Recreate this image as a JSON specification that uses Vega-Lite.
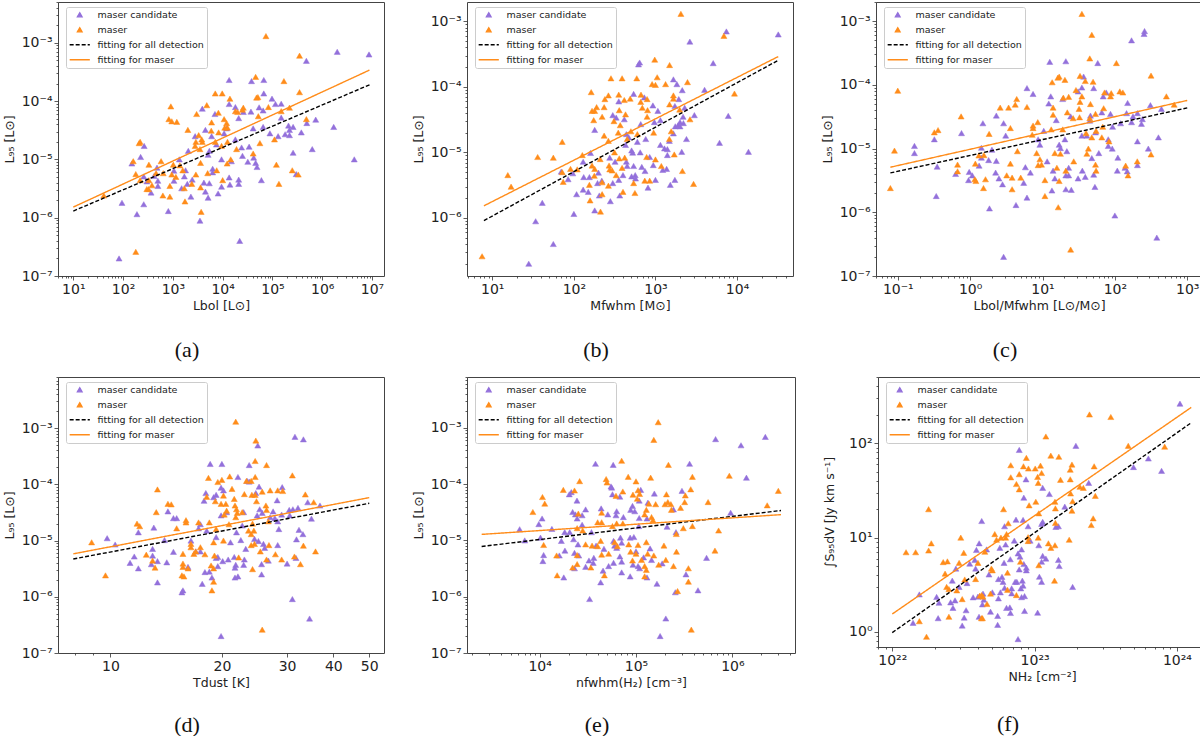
{"$schema":"https://vega.github.io/schema/vega-lite/v6.json","padding":{"left":2,"top":-6,"right":0,"bottom":0},"background":"white","spacing":8,"resolve":{"scale":{"fill":"independent","stroke":"independent","shape":"independent","strokeDash":"independent"},"legend":{"fill":"independent","stroke":"independent","shape":"independent","strokeDash":"independent"}},"params":[{"name":"sup","value":{"-7":"⁻⁷","-6":"⁻⁶","-5":"⁻⁵","-4":"⁻⁴","-3":"⁻³","-1":"⁻¹","0":"⁰","1":"¹","2":"²","3":"³","4":"⁴","5":"⁵","6":"⁶","7":"⁷","22":"²²","23":"²³","24":"²⁴"}}],"config":{"font":"DejaVu Sans","view":{"stroke":"#444444","strokeWidth":1},"axis":{"grid":false,"domain":false,"labelFont":"DejaVu Sans","titleFont":"DejaVu Sans","labelFontSize":14,"titleFontSize":12.5,"titleFontWeight":"normal","tickColor":"#333333","labelColor":"#222222","titleColor":"#222222","tickWidth":0.8,"labelOverlap":false,"labelFlush":false,"labelBound":false,"labelPadding":2},"axisY":{"minExtent":36,"maxExtent":36,"titlePadding":6},"axisX":{"titlePadding":3},"legend":{"orient":"none","legendX":8,"legendY":5,"title":null,"fillColor":"rgba(255,255,255,0.8)","strokeColor":"#cccccc","cornerRadius":2,"padding":3,"labelFont":"DejaVu Sans","labelFontSize":9.5,"labelColor":"#222222","symbolSize":22,"symbolStrokeWidth":1.3,"symbolOpacity":1,"symbolOffset":6,"rowPadding":4,"labelOffset":13},"title":{"font":"Liberation Serif","fontSize":22,"fontWeight":"normal","color":"#111111","orient":"bottom","anchor":"middle","dx":-34,"offset":28}},"datasets":{
"a":[{"s":"maser candidate","x":83,"y":2e-7},{"s":"maser candidate","x":95,"y":1.8e-6},{"s":"maser candidate","x":190,"y":1.15e-6},{"s":"maser candidate","x":260,"y":1.7e-6},{"s":"maser candidate","x":150,"y":8.5e-6},{"s":"maser candidate","x":225,"y":1.1e-5},{"s":"maser candidate","x":265,"y":1.7e-5},{"s":"maser candidate","x":260,"y":5.1e-6},{"s":"maser candidate","x":300,"y":4.2e-6},{"s":"maser candidate","x":365,"y":2.7e-6},{"s":"maser candidate","x":420,"y":5.2e-6},{"s":"maser candidate","x":480,"y":7.2e-6},{"s":"maser candidate","x":500,"y":4.3e-6},{"s":"maser candidate","x":500,"y":3.5e-6},{"s":"maser candidate","x":810,"y":1.3e-6},{"s":"maser candidate","x":1050,"y":4.3e-6},{"s":"maser candidate","x":1050,"y":6.4e-6},{"s":"maser candidate","x":1350,"y":1e-5},{"s":"maser candidate","x":1500,"y":3.2e-6},{"s":"maser candidate","x":1700,"y":5.1e-6},{"s":"maser candidate","x":1800,"y":6.5e-6},{"s":"maser candidate","x":1950,"y":3.8e-6},{"s":"maser candidate","x":2040,"y":1.4e-5},{"s":"maser candidate","x":2300,"y":2.3e-6},{"s":"maser candidate","x":2450,"y":4.5e-6},{"s":"maser candidate","x":2800,"y":2.5e-5},{"s":"maser candidate","x":3500,"y":8.9e-7},{"s":"maser candidate","x":3900,"y":7.4e-5},{"s":"maser candidate","x":4200,"y":4e-6},{"s":"maser candidate","x":4500,"y":3.2e-5},{"s":"maser candidate","x":4500,"y":2.8e-6},{"s":"maser candidate","x":5100,"y":1.2e-5},{"s":"maser candidate","x":5100,"y":2.2e-6},{"s":"maser candidate","x":5400,"y":3.9e-6},{"s":"maser candidate","x":5400,"y":1.4e-5},{"s":"maser candidate","x":6000,"y":2.5e-5},{"s":"maser candidate","x":6300,"y":6.9e-6},{"s":"maser candidate","x":6300,"y":6e-6},{"s":"maser candidate","x":7000,"y":6e-5},{"s":"maser candidate","x":7500,"y":1.8e-5},{"s":"maser candidate","x":8100,"y":2.6e-6},{"s":"maser candidate","x":9500,"y":3.4e-6},{"s":"maser candidate","x":9500,"y":1e-5},{"s":"maser candidate","x":10700,"y":2.8e-5},{"s":"maser candidate","x":12000,"y":3.4e-5},{"s":"maser candidate","x":13500,"y":4.9e-6},{"s":"maser candidate","x":14000,"y":3.7e-6},{"s":"maser candidate","x":13500,"y":8.9e-5},{"s":"maser candidate","x":13500,"y":2.3e-4},{"s":"maser candidate","x":15000,"y":9.3e-6},{"s":"maser candidate","x":18000,"y":2.2e-5},{"s":"maser candidate","x":18000,"y":7.9e-5},{"s":"maser candidate","x":21000,"y":5.1e-5},{"s":"maser candidate","x":21000,"y":4.5e-6},{"s":"maser candidate","x":21000,"y":3.8e-6},{"s":"maser candidate","x":22000,"y":4e-7},{"s":"maser candidate","x":24000,"y":1.6e-5},{"s":"maser candidate","x":25000,"y":1.15e-5},{"s":"maser candidate","x":26000,"y":6.5e-5},{"s":"maser candidate","x":32000,"y":9.1e-6},{"s":"maser candidate","x":34000,"y":1.65e-5},{"s":"maser candidate","x":37000,"y":6.6e-5},{"s":"maser candidate","x":38000,"y":2.2e-4},{"s":"maser candidate","x":41000,"y":3.4e-5},{"s":"maser candidate","x":42000,"y":1.07e-5},{"s":"maser candidate","x":46000,"y":8.7e-6},{"s":"maser candidate","x":49000,"y":7.4e-6},{"s":"maser candidate","x":54000,"y":7.8e-5},{"s":"maser candidate","x":60000,"y":4.4e-6},{"s":"maser candidate","x":65000,"y":6.9e-5},{"s":"maser candidate","x":67000,"y":1.35e-4},{"s":"maser candidate","x":67000,"y":2.3e-4},{"s":"maser candidate","x":65000,"y":3.6e-5},{"s":"maser candidate","x":89000,"y":2.8e-5},{"s":"maser candidate","x":98000,"y":1.1e-4},{"s":"maser candidate","x":115000,"y":8.9e-5},{"s":"maser candidate","x":130000,"y":2.5e-5},{"s":"maser candidate","x":150000,"y":9e-5},{"s":"maser candidate","x":150000,"y":5.2e-5},{"s":"maser candidate","x":180000,"y":2.7e-5},{"s":"maser candidate","x":210000,"y":3.8e-5},{"s":"maser candidate","x":220000,"y":3.2e-5},{"s":"maser candidate","x":220000,"y":2.6e-5},{"s":"maser candidate","x":260000,"y":3.6e-5},{"s":"maser candidate","x":260000,"y":1.3e-5},{"s":"maser candidate","x":300000,"y":5.6e-6},{"s":"maser candidate","x":380000,"y":2.9e-5},{"s":"maser candidate","x":480000,"y":4.9e-4},{"s":"maser candidate","x":490000,"y":4.2e-5},{"s":"maser candidate","x":630000,"y":1.5e-5},{"s":"maser candidate","x":740000,"y":4.8e-5},{"s":"maser candidate","x":1700000,"y":3.6e-5},{"s":"maser candidate","x":2000000,"y":7e-4},{"s":"maser candidate","x":4400000,"y":1e-5},{"s":"maser candidate","x":8700000,"y":6.3e-4},{"s":"maser","x":41,"y":2.4e-6},{"s":"maser","x":180,"y":2.6e-7},{"s":"maser","x":160,"y":9.3e-6},{"s":"maser","x":180,"y":5.6e-6},{"s":"maser","x":210,"y":1.9e-5},{"s":"maser","x":220,"y":2e-5},{"s":"maser","x":220,"y":4.4e-6},{"s":"maser","x":300,"y":3.1e-6},{"s":"maser","x":330,"y":8.1e-6},{"s":"maser","x":330,"y":4.4e-6},{"s":"maser","x":325,"y":3.1e-6},{"s":"maser","x":380,"y":3.6e-6},{"s":"maser","x":460,"y":5.8e-6},{"s":"maser","x":580,"y":9.3e-6},{"s":"maser","x":630,"y":2.4e-6},{"s":"maser","x":640,"y":5.8e-6},{"s":"maser","x":830,"y":4.9e-5},{"s":"maser","x":870,"y":2.3e-6},{"s":"maser","x":870,"y":3.5e-6},{"s":"maser","x":910,"y":8.1e-5},{"s":"maser","x":950,"y":4.5e-5},{"s":"maser","x":950,"y":5.5e-6},{"s":"maser","x":1020,"y":8.1e-6},{"s":"maser","x":1150,"y":5e-6},{"s":"maser","x":1200,"y":4.4e-5},{"s":"maser","x":1380,"y":7.9e-6},{"s":"maser","x":1580,"y":6.5e-6},{"s":"maser","x":1700,"y":3.2e-6},{"s":"maser","x":1750,"y":1.9e-6},{"s":"maser","x":2000,"y":3.2e-5},{"s":"maser","x":2400,"y":3.8e-6},{"s":"maser","x":2800,"y":1.7e-5},{"s":"maser","x":2900,"y":5.5e-6},{"s":"maser","x":3000,"y":6e-5},{"s":"maser","x":2900,"y":2e-5},{"s":"maser","x":3300,"y":2.6e-5},{"s":"maser","x":3500,"y":1.5e-5},{"s":"maser","x":3600,"y":3.3e-6},{"s":"maser","x":3600,"y":8.7e-6},{"s":"maser","x":3700,"y":1.26e-6},{"s":"maser","x":3800,"y":2.2e-5},{"s":"maser","x":3900,"y":2e-5},{"s":"maser","x":4800,"y":8.5e-5},{"s":"maser","x":5000,"y":5.8e-6},{"s":"maser","x":5900,"y":3.1e-5},{"s":"maser","x":6000,"y":4.3e-5},{"s":"maser","x":7100,"y":1.35e-4},{"s":"maser","x":7600,"y":6.5e-6},{"s":"maser","x":7100,"y":2e-5},{"s":"maser","x":8200,"y":6.3e-5},{"s":"maser","x":8300,"y":2.9e-5},{"s":"maser","x":9800,"y":1.35e-4},{"s":"maser","x":10000,"y":4.4e-6},{"s":"maser","x":9500,"y":1.7e-5},{"s":"maser","x":10700,"y":4.9e-5},{"s":"maser","x":11000,"y":3.5e-5},{"s":"maser","x":12000,"y":4.2e-5},{"s":"maser","x":12300,"y":8.5e-6},{"s":"maser","x":12500,"y":3.5e-5},{"s":"maser","x":12500,"y":2e-5},{"s":"maser","x":14000,"y":1.1e-4},{"s":"maser","x":14500,"y":1e-5},{"s":"maser","x":18000,"y":6.7e-5},{"s":"maser","x":20000,"y":6.5e-5},{"s":"maser","x":19000,"y":1.5e-5},{"s":"maser","x":26000,"y":7.7e-5},{"s":"maser","x":25000,"y":7.1e-5},{"s":"maser","x":41000,"y":1.26e-5},{"s":"maser","x":46000,"y":2.6e-4},{"s":"maser","x":51000,"y":1.17e-4},{"s":"maser","x":48000,"y":1.15e-4},{"s":"maser","x":52000,"y":5.5e-5},{"s":"maser","x":56000,"y":1.9e-5},{"s":"maser","x":83000,"y":7.9e-5},{"s":"maser","x":74000,"y":1.3e-3},{"s":"maser","x":110000,"y":2.2e-5},{"s":"maser","x":120000,"y":8.1e-6},{"s":"maser","x":135000,"y":3.8e-6},{"s":"maser","x":150000,"y":6.7e-5},{"s":"maser","x":170000,"y":2.2e-4},{"s":"maser","x":220000,"y":7.7e-5},{"s":"maser","x":250000,"y":6.5e-6},{"s":"maser","x":330000,"y":5.5e-6},{"s":"maser","x":350000,"y":1.42e-4},{"s":"maser","x":350000,"y":6e-4},{"s":"maser","x":480000,"y":4.9e-5}],
"b":[{"s":"maser candidate","x":28,"y":2e-7},{"s":"maser candidate","x":34,"y":8.9e-7},{"s":"maser candidate","x":41,"y":1.7e-6},{"s":"maser candidate","x":56,"y":4e-7},{"s":"maser candidate","x":70,"y":5.1e-6},{"s":"maser candidate","x":85,"y":3.9e-6},{"s":"maser candidate","x":97,"y":4.8e-6},{"s":"maser candidate","x":100,"y":1.15e-6},{"s":"maser candidate","x":108,"y":2.3e-6},{"s":"maser candidate","x":130,"y":2.7e-6},{"s":"maser candidate","x":130,"y":7.2e-6},{"s":"maser candidate","x":132,"y":4.2e-6},{"s":"maser candidate","x":150,"y":2.5e-6},{"s":"maser candidate","x":155,"y":4.2e-6},{"s":"maser candidate","x":160,"y":9.8e-6},{"s":"maser candidate","x":180,"y":2.2e-5},{"s":"maser candidate","x":180,"y":1.3e-6},{"s":"maser candidate","x":195,"y":3.4e-6},{"s":"maser candidate","x":200,"y":4.9e-6},{"s":"maser candidate","x":205,"y":2.2e-6},{"s":"maser candidate","x":220,"y":3.7e-6},{"s":"maser candidate","x":280,"y":1.8e-6},{"s":"maser candidate","x":275,"y":8.3e-6},{"s":"maser candidate","x":300,"y":3.7e-5},{"s":"maser candidate","x":300,"y":3.4e-6},{"s":"maser candidate","x":320,"y":7.2e-6},{"s":"maser candidate","x":330,"y":3.4e-5},{"s":"maser candidate","x":355,"y":6e-5},{"s":"maser candidate","x":355,"y":3.8e-6},{"s":"maser candidate","x":365,"y":2.2e-6},{"s":"maser candidate","x":400,"y":4.5e-6},{"s":"maser candidate","x":415,"y":3.2e-5},{"s":"maser candidate","x":430,"y":1.3e-5},{"s":"maser candidate","x":440,"y":1.9e-5},{"s":"maser candidate","x":440,"y":7.2e-6},{"s":"maser candidate","x":450,"y":6.2e-6},{"s":"maser candidate","x":470,"y":1.7e-5},{"s":"maser candidate","x":510,"y":4.3e-6},{"s":"maser candidate","x":510,"y":1.07e-5},{"s":"maser candidate","x":525,"y":9.9e-6},{"s":"maser candidate","x":540,"y":6.2e-6},{"s":"maser candidate","x":540,"y":7.8e-5},{"s":"maser candidate","x":565,"y":4.5e-6},{"s":"maser candidate","x":570,"y":4e-6},{"s":"maser candidate","x":600,"y":1.45e-5},{"s":"maser candidate","x":620,"y":2.2e-4},{"s":"maser candidate","x":640,"y":2.35e-4},{"s":"maser candidate","x":650,"y":1e-5},{"s":"maser candidate","x":660,"y":2.7e-5},{"s":"maser candidate","x":680,"y":6e-6},{"s":"maser candidate","x":730,"y":6.9e-5},{"s":"maser candidate","x":745,"y":5.2e-6},{"s":"maser candidate","x":760,"y":1.6e-5},{"s":"maser candidate","x":810,"y":2.9e-6},{"s":"maser candidate","x":850,"y":8.5e-6},{"s":"maser candidate","x":930,"y":5.2e-5},{"s":"maser candidate","x":940,"y":6.4e-6},{"s":"maser candidate","x":970,"y":2.9e-5},{"s":"maser candidate","x":1000,"y":3.8e-6},{"s":"maser candidate","x":1070,"y":4.3e-5},{"s":"maser candidate","x":1150,"y":1.3e-5},{"s":"maser candidate","x":1150,"y":3.1e-5},{"s":"maser candidate","x":1230,"y":5.4e-6},{"s":"maser candidate","x":1290,"y":1.15e-5},{"s":"maser candidate","x":1370,"y":5.6e-6},{"s":"maser candidate","x":1400,"y":9.1e-6},{"s":"maser candidate","x":1400,"y":1.12e-5},{"s":"maser candidate","x":1480,"y":1.5e-5},{"s":"maser candidate","x":1520,"y":3.2e-6},{"s":"maser candidate","x":1660,"y":1.3e-4},{"s":"maser candidate","x":1660,"y":1.95e-5},{"s":"maser candidate","x":1730,"y":3.8e-6},{"s":"maser candidate","x":1730,"y":5.1e-5},{"s":"maser candidate","x":1750,"y":2.5e-5},{"s":"maser candidate","x":1830,"y":1.1e-4},{"s":"maser candidate","x":1930,"y":6.5e-5},{"s":"maser candidate","x":1900,"y":2.6e-5},{"s":"maser candidate","x":2000,"y":2.9e-5},{"s":"maser candidate","x":2000,"y":2.5e-5},{"s":"maser candidate","x":2100,"y":1.02e-5},{"s":"maser candidate","x":2130,"y":8.9e-5},{"s":"maser candidate","x":2180,"y":3.5e-5},{"s":"maser candidate","x":2200,"y":2.8e-5},{"s":"maser candidate","x":2280,"y":4.8e-5},{"s":"maser candidate","x":2400,"y":1.6e-5},{"s":"maser candidate","x":2640,"y":4.9e-4},{"s":"maser candidate","x":3000,"y":3.7e-5},{"s":"maser candidate","x":4000,"y":9e-5},{"s":"maser candidate","x":5100,"y":2.3e-4},{"s":"maser candidate","x":6100,"y":1.4e-5},{"s":"maser candidate","x":7400,"y":7e-4},{"s":"maser candidate","x":7800,"y":3.6e-5},{"s":"maser candidate","x":13800,"y":1.02e-5},{"s":"maser candidate","x":32000,"y":6.3e-4},{"s":"maser","x":7.5,"y":2.6e-7},{"s":"maser","x":15.5,"y":4.5e-6},{"s":"maser","x":17,"y":3e-6},{"s":"maser","x":36,"y":8.5e-6},{"s":"maser","x":56,"y":8.3e-6},{"s":"maser","x":72,"y":1.45e-5},{"s":"maser","x":72,"y":5e-6},{"s":"maser","x":74,"y":3.55e-6},{"s":"maser","x":91,"y":5.6e-6},{"s":"maser","x":110,"y":5.5e-6},{"s":"maser","x":127,"y":9.1e-6},{"s":"maser","x":155,"y":3.2e-6},{"s":"maser","x":158,"y":1.85e-6},{"s":"maser","x":163,"y":8.3e-5},{"s":"maser","x":167,"y":4.3e-5},{"s":"maser","x":167,"y":6.3e-6},{"s":"maser","x":175,"y":3.1e-5},{"s":"maser","x":180,"y":4.3e-5},{"s":"maser","x":178,"y":4.4e-6},{"s":"maser","x":180,"y":5.6e-6},{"s":"maser","x":190,"y":4.9e-5},{"s":"maser","x":210,"y":7.9e-6},{"s":"maser","x":212,"y":1.25e-6},{"s":"maser","x":222,"y":3.5e-5},{"s":"maser","x":222,"y":3.5e-6},{"s":"maser","x":222,"y":2.3e-6},{"s":"maser","x":235,"y":4.9e-5},{"s":"maser","x":235,"y":1.8e-5},{"s":"maser","x":240,"y":6.5e-5},{"s":"maser","x":265,"y":7.4e-5},{"s":"maser","x":265,"y":1.5e-5},{"s":"maser","x":265,"y":3.1e-6},{"s":"maser","x":270,"y":6.3e-6},{"s":"maser","x":285,"y":1.35e-4},{"s":"maser","x":275,"y":5.5e-6},{"s":"maser","x":295,"y":5.3e-6},{"s":"maser","x":310,"y":3e-5},{"s":"maser","x":315,"y":1e-5},{"s":"maser","x":330,"y":4.5e-6},{"s":"maser","x":350,"y":2e-5},{"s":"maser","x":355,"y":7.6e-5},{"s":"maser","x":360,"y":4.4e-5},{"s":"maser","x":370,"y":2.6e-5},{"s":"maser","x":360,"y":8.1e-6},{"s":"maser","x":390,"y":5.8e-6},{"s":"maser","x":390,"y":1.35e-4},{"s":"maser","x":400,"y":2.5e-6},{"s":"maser","x":415,"y":6.3e-5},{"s":"maser","x":430,"y":3.8e-5},{"s":"maser","x":420,"y":8.3e-6},{"s":"maser","x":450,"y":1.6e-5},{"s":"maser","x":490,"y":6.6e-5},{"s":"maser","x":500,"y":2.1e-5},{"s":"maser","x":540,"y":3.4e-6},{"s":"maser","x":560,"y":2.4e-6},{"s":"maser","x":590,"y":1.35e-4},{"s":"maser","x":600,"y":1.9e-5},{"s":"maser","x":660,"y":5.9e-5},{"s":"maser","x":665,"y":7.6e-5},{"s":"maser","x":690,"y":4.8e-5},{"s":"maser","x":740,"y":3.7e-6},{"s":"maser","x":790,"y":6.5e-5},{"s":"maser","x":800,"y":4.4e-5},{"s":"maser","x":790,"y":3.5e-5},{"s":"maser","x":780,"y":8.5e-6},{"s":"maser","x":850,"y":3.7e-6},{"s":"maser","x":910,"y":1.1e-4},{"s":"maser","x":950,"y":2e-5},{"s":"maser","x":980,"y":2.6e-4},{"s":"maser","x":1000,"y":1.07e-4},{"s":"maser","x":1000,"y":7.8e-6},{"s":"maser","x":1050,"y":1.4e-4},{"s":"maser","x":1330,"y":1.1e-4},{"s":"maser","x":1180,"y":6.2e-6},{"s":"maser","x":1490,"y":2.15e-4},{"s":"maser","x":1490,"y":5.4e-5},{"s":"maser","x":1480,"y":1.6e-5},{"s":"maser","x":1560,"y":2.1e-5},{"s":"maser","x":1660,"y":6.6e-5},{"s":"maser","x":1700,"y":9.3e-6},{"s":"maser","x":1660,"y":7.4e-5},{"s":"maser","x":1980,"y":4.5e-5},{"s":"maser","x":2050,"y":1.3e-3},{"s":"maser","x":2140,"y":5.2e-6},{"s":"maser","x":2470,"y":1.18e-4},{"s":"maser","x":2650,"y":3.2e-5},{"s":"maser","x":2930,"y":3.3e-6},{"s":"maser","x":6900,"y":6e-4},{"s":"maser","x":9300,"y":7.9e-5}],
"c":[{"s":"maser candidate","x":0.17,"y":1.1e-5},{"s":"maser candidate","x":0.17,"y":8.5e-6},{"s":"maser candidate","x":0.32,"y":1.4e-5},{"s":"maser candidate","x":0.35,"y":5.2e-6},{"s":"maser candidate","x":0.34,"y":1.8e-6},{"s":"maser candidate","x":0.76,"y":1.75e-5},{"s":"maser candidate","x":0.63,"y":4e-6},{"s":"maser candidate","x":0.97,"y":4.3e-6},{"s":"maser candidate","x":0.95,"y":3.2e-6},{"s":"maser candidate","x":1.07,"y":3.8e-6},{"s":"maser candidate","x":1.33,"y":5.4e-6},{"s":"maser candidate","x":1.43,"y":7.2e-6},{"s":"maser candidate","x":1.43,"y":1.03e-5},{"s":"maser candidate","x":1.5,"y":2.5e-5},{"s":"maser candidate","x":1.8,"y":6.6e-6},{"s":"maser candidate","x":1.85,"y":1.15e-6},{"s":"maser candidate","x":2,"y":9.6e-6},{"s":"maser candidate","x":2.3,"y":3.3e-5},{"s":"maser candidate","x":2.25,"y":4.2e-6},{"s":"maser candidate","x":2.3,"y":6.4e-6},{"s":"maser candidate","x":2.5,"y":3.4e-6},{"s":"maser candidate","x":2.8,"y":2.75e-6},{"s":"maser candidate","x":2.9,"y":2.5e-5},{"s":"maser candidate","x":2.9,"y":2e-7},{"s":"maser candidate","x":3.1,"y":1.6e-5},{"s":"maser candidate","x":4.3,"y":1.3e-6},{"s":"maser candidate","x":5.5,"y":2.9e-6},{"s":"maser candidate","x":5.8,"y":5.1e-6},{"s":"maser candidate","x":6.1,"y":8.9e-5},{"s":"maser candidate","x":6.1,"y":1.7e-6},{"s":"maser candidate","x":6.8,"y":4.2e-6},{"s":"maser candidate","x":7.4,"y":7.2e-5},{"s":"maser candidate","x":8.7,"y":1.4e-5},{"s":"maser candidate","x":9.2,"y":1.15e-5},{"s":"maser candidate","x":10.4,"y":1.9e-5},{"s":"maser candidate","x":11.6,"y":6.3e-6},{"s":"maser candidate","x":12.2,"y":5.1e-5},{"s":"maser candidate","x":12.6,"y":2.3e-4},{"s":"maser candidate","x":13,"y":6.6e-5},{"s":"maser candidate","x":13.5,"y":2.2e-6},{"s":"maser candidate","x":14,"y":4.5e-6},{"s":"maser candidate","x":14.8,"y":3.4e-6},{"s":"maser candidate","x":15.5,"y":2.8e-5},{"s":"maser candidate","x":17,"y":1.15e-5},{"s":"maser candidate","x":17.7,"y":1.02e-5},{"s":"maser candidate","x":19,"y":6e-5},{"s":"maser candidate","x":21,"y":2.35e-4},{"s":"maser candidate","x":20.4,"y":1.4e-5},{"s":"maser candidate","x":21,"y":2.3e-6},{"s":"maser candidate","x":21.7,"y":9.1e-6},{"s":"maser candidate","x":21,"y":3.8e-6},{"s":"maser candidate","x":23,"y":3.8e-6},{"s":"maser candidate","x":23,"y":5e-6},{"s":"maser candidate","x":24.5,"y":3.2e-5},{"s":"maser candidate","x":25,"y":2.25e-6},{"s":"maser candidate","x":31,"y":3.4e-6},{"s":"maser candidate","x":31,"y":7.9e-5},{"s":"maser candidate","x":35,"y":9.1e-5},{"s":"maser candidate","x":35.5,"y":4.5e-6},{"s":"maser candidate","x":35,"y":1.6e-5},{"s":"maser candidate","x":37,"y":1.35e-4},{"s":"maser candidate","x":39,"y":3.6e-6},{"s":"maser candidate","x":41,"y":1.6e-5},{"s":"maser candidate","x":45,"y":2.75e-5},{"s":"maser candidate","x":46,"y":3.3e-5},{"s":"maser candidate","x":48,"y":7.1e-6},{"s":"maser candidate","x":51,"y":8.9e-5},{"s":"maser candidate","x":51,"y":3.9e-6},{"s":"maser candidate","x":53,"y":2.5e-6},{"s":"maser candidate","x":54,"y":1.8e-5},{"s":"maser candidate","x":58,"y":2.2e-4},{"s":"maser candidate","x":60,"y":8.5e-6},{"s":"maser candidate","x":66,"y":3.7e-5},{"s":"maser candidate","x":69,"y":6.6e-5},{"s":"maser candidate","x":76,"y":7.6e-5},{"s":"maser candidate","x":81,"y":1.4e-5},{"s":"maser candidate","x":81,"y":1.1e-5},{"s":"maser candidate","x":87,"y":3.5e-5},{"s":"maser candidate","x":92,"y":1e-5},{"s":"maser candidate","x":93,"y":2.2e-5},{"s":"maser candidate","x":100,"y":8.9e-7},{"s":"maser candidate","x":108,"y":4.5e-6},{"s":"maser candidate","x":110,"y":7.2e-6},{"s":"maser candidate","x":120,"y":2.5e-5},{"s":"maser candidate","x":138,"y":5e-6},{"s":"maser candidate","x":145,"y":3.6e-5},{"s":"maser candidate","x":148,"y":4.4e-6},{"s":"maser candidate","x":150,"y":5.2e-5},{"s":"maser candidate","x":170,"y":5e-4},{"s":"maser candidate","x":170,"y":2.6e-5},{"s":"maser candidate","x":178,"y":3.2e-5},{"s":"maser candidate","x":205,"y":1.3e-5},{"s":"maser candidate","x":205,"y":5.5e-6},{"s":"maser candidate","x":205,"y":3.6e-5},{"s":"maser candidate","x":233,"y":2.45e-5},{"s":"maser candidate","x":240,"y":2.9e-5},{"s":"maser candidate","x":253,"y":6.3e-4},{"s":"maser candidate","x":257,"y":7e-4},{"s":"maser candidate","x":290,"y":1e-5},{"s":"maser candidate","x":310,"y":4.8e-5},{"s":"maser candidate","x":380,"y":4e-7},{"s":"maser candidate","x":400,"y":1.5e-5},{"s":"maser candidate","x":440,"y":4.2e-5},{"s":"maser","x":0.079,"y":2.4e-6},{"s":"maser","x":0.09,"y":9.3e-6},{"s":"maser","x":0.1,"y":8.1e-5},{"s":"maser","x":0.32,"y":1.8e-5},{"s":"maser","x":0.36,"y":1.95e-5},{"s":"maser","x":0.67,"y":5.6e-6},{"s":"maser","x":0.67,"y":4.4e-6},{"s":"maser","x":0.75,"y":3.2e-5},{"s":"maser","x":1.18,"y":5.8e-6},{"s":"maser","x":1.16,"y":3.3e-6},{"s":"maser","x":1.2,"y":3.1e-6},{"s":"maser","x":1.32,"y":7.8e-6},{"s":"maser","x":1.55,"y":7.9e-6},{"s":"maser","x":1.53,"y":2.4e-6},{"s":"maser","x":1.63,"y":3.3e-6},{"s":"maser","x":1.83,"y":1.7e-5},{"s":"maser","x":2.6,"y":4.4e-5},{"s":"maser","x":3.2,"y":3.8e-6},{"s":"maser","x":3.4,"y":4.4e-5},{"s":"maser","x":3.6,"y":2.1e-5},{"s":"maser","x":3.6,"y":5.8e-6},{"s":"maser","x":3.8,"y":3.5e-6},{"s":"maser","x":3.8,"y":2.3e-6},{"s":"maser","x":4.2,"y":4.9e-5},{"s":"maser","x":4.4,"y":6e-5},{"s":"maser","x":4.5,"y":9.1e-6},{"s":"maser","x":5,"y":3.5e-6},{"s":"maser","x":6.1,"y":4.5e-5},{"s":"maser","x":7.2,"y":1.65e-5},{"s":"maser","x":7.4,"y":2.3e-5},{"s":"maser","x":7.4,"y":2.1e-5},{"s":"maser","x":8.3,"y":8.5e-6},{"s":"maser","x":8.6,"y":2.6e-5},{"s":"maser","x":8.7,"y":5.5e-6},{"s":"maser","x":9.2,"y":6.8e-6},{"s":"maser","x":9.7,"y":5.6e-6},{"s":"maser","x":10.8,"y":3.2e-6},{"s":"maser","x":10.8,"y":1.8e-6},{"s":"maser","x":13.2,"y":2e-5},{"s":"maser","x":13.6,"y":1.1e-4},{"s":"maser","x":14,"y":4.4e-5},{"s":"maser","x":14,"y":3.4e-5},{"s":"maser","x":14.8,"y":8.5e-6},{"s":"maser","x":15.8,"y":5e-6},{"s":"maser","x":16.3,"y":1.3e-4},{"s":"maser","x":17,"y":1.35e-4},{"s":"maser","x":16.5,"y":1.2e-6},{"s":"maser","x":17,"y":3.1e-6},{"s":"maser","x":17.7,"y":8.3e-6},{"s":"maser","x":19,"y":2e-5},{"s":"maser","x":19.4,"y":6.3e-5},{"s":"maser","x":20.4,"y":1.2e-4},{"s":"maser","x":21,"y":4.5e-6},{"s":"maser","x":22,"y":3.7e-5},{"s":"maser","x":23,"y":6.5e-5},{"s":"maser","x":24.5,"y":2.6e-7},{"s":"maser","x":26.5,"y":3e-5},{"s":"maser","x":27,"y":6.3e-6},{"s":"maser","x":29,"y":8.3e-5},{"s":"maser","x":32,"y":4.2e-5},{"s":"maser","x":32.5,"y":3.1e-5},{"s":"maser","x":33,"y":1.38e-4},{"s":"maser","x":33,"y":5.4e-5},{"s":"maser","x":35,"y":1.3e-3},{"s":"maser","x":35,"y":6.6e-5},{"s":"maser","x":40,"y":1.75e-5},{"s":"maser","x":39,"y":1.15e-4},{"s":"maser","x":41,"y":8.3e-6},{"s":"maser","x":43,"y":1e-5},{"s":"maser","x":45,"y":2.6e-4},{"s":"maser","x":45,"y":3e-5},{"s":"maser","x":46,"y":5e-5},{"s":"maser","x":48,"y":1.5e-5},{"s":"maser","x":48,"y":6.1e-4},{"s":"maser","x":50,"y":1.12e-4},{"s":"maser","x":54,"y":5.6e-6},{"s":"maser","x":55,"y":4.5e-6},{"s":"maser","x":54,"y":3.5e-5},{"s":"maser","x":55,"y":1.9e-5},{"s":"maser","x":68,"y":2.2e-5},{"s":"maser","x":66,"y":1.5e-5},{"s":"maser","x":70,"y":4.3e-5},{"s":"maser","x":72,"y":7.6e-5},{"s":"maser","x":83,"y":1.3e-5},{"s":"maser","x":87,"y":6.6e-5},{"s":"maser","x":89,"y":7.4e-5},{"s":"maser","x":105,"y":2.2e-4},{"s":"maser","x":117,"y":7.9e-5},{"s":"maser","x":129,"y":7.6e-5},{"s":"maser","x":141,"y":5.4e-6},{"s":"maser","x":152,"y":3.8e-6},{"s":"maser","x":204,"y":6.3e-6},{"s":"maser","x":316,"y":1.4e-4},{"s":"maser","x":316,"y":8.1e-6},{"s":"maser","x":515,"y":6.6e-5},{"s":"maser","x":660,"y":4.9e-5}],
"d":[{"s":"maser candidate","x":9.8,"y":1.1e-5},{"s":"maser candidate","x":10.3,"y":8.5e-6},{"s":"maser candidate","x":11.3,"y":4e-6},{"s":"maser candidate","x":11.6,"y":5.2e-6},{"s":"maser candidate","x":11.9,"y":1.4e-5},{"s":"maser candidate","x":11.9,"y":3.2e-6},{"s":"maser candidate","x":12.9,"y":3.8e-6},{"s":"maser candidate","x":13,"y":7.1e-6},{"s":"maser candidate","x":13,"y":5.4e-6},{"s":"maser candidate","x":13.1,"y":1.7e-5},{"s":"maser candidate","x":13.4,"y":4.3e-6},{"s":"maser candidate","x":13.4,"y":1.8e-6},{"s":"maser candidate","x":14,"y":1.02e-5},{"s":"maser candidate","x":14.2,"y":4.1e-6},{"s":"maser candidate","x":14.3,"y":3.3e-5},{"s":"maser candidate","x":14.8,"y":2.5e-5},{"s":"maser candidate","x":15.1,"y":2.5e-5},{"s":"maser candidate","x":14.8,"y":6.3e-6},{"s":"maser candidate","x":15.6,"y":1.2e-6},{"s":"maser candidate","x":15.7,"y":1.3e-6},{"s":"maser candidate","x":16.2,"y":3.4e-6},{"s":"maser candidate","x":16.5,"y":1e-5},{"s":"maser candidate","x":17,"y":6.4e-6},{"s":"maser candidate","x":17.3,"y":1.65e-5},{"s":"maser candidate","x":17.5,"y":6.4e-6},{"s":"maser candidate","x":17.5,"y":1.95e-5},{"s":"maser candidate","x":17.7,"y":1.7e-6},{"s":"maser candidate","x":18,"y":2.75e-6},{"s":"maser candidate","x":17.9,"y":5.1e-5},{"s":"maser candidate","x":18.1,"y":7e-5},{"s":"maser candidate","x":18.2,"y":1.5e-5},{"s":"maser candidate","x":18.6,"y":2.3e-4},{"s":"maser candidate","x":18.5,"y":2.8e-6},{"s":"maser candidate","x":18.8,"y":2.2e-6},{"s":"maser candidate","x":19,"y":5.9e-5},{"s":"maser candidate","x":19.3,"y":6.5e-5},{"s":"maser candidate","x":19.3,"y":1.15e-5},{"s":"maser candidate","x":19.3,"y":4.9e-6},{"s":"maser candidate","x":19.5,"y":5.1e-6},{"s":"maser candidate","x":19.5,"y":3.5e-6},{"s":"maser candidate","x":19.9,"y":2e-7},{"s":"maser candidate","x":19.9,"y":8.7e-5},{"s":"maser candidate","x":20,"y":2.3e-4},{"s":"maser candidate","x":19.9,"y":2.8e-5},{"s":"maser candidate","x":20.1,"y":4.3e-6},{"s":"maser candidate","x":20.2,"y":7.8e-5},{"s":"maser candidate","x":20.6,"y":3.2e-5},{"s":"maser candidate","x":20.8,"y":4.6e-6},{"s":"maser candidate","x":21.1,"y":9.3e-6},{"s":"maser candidate","x":21.6,"y":5.1e-6},{"s":"maser candidate","x":21.7,"y":3.3e-6},{"s":"maser candidate","x":21.8,"y":3.7e-6},{"s":"maser candidate","x":21.7,"y":2.2e-6},{"s":"maser candidate","x":21.9,"y":1.4e-5},{"s":"maser candidate","x":22.1,"y":1.35e-4},{"s":"maser candidate","x":22.1,"y":2.3e-6},{"s":"maser candidate","x":22.5,"y":1.02e-5},{"s":"maser candidate","x":22.7,"y":1.85e-5},{"s":"maser candidate","x":22.9,"y":3.7e-6},{"s":"maser candidate","x":22.9,"y":3.2e-5},{"s":"maser candidate","x":23,"y":4.6e-6},{"s":"maser candidate","x":23.2,"y":7.1e-6},{"s":"maser candidate","x":23.7,"y":2.2e-4},{"s":"maser candidate","x":23.4,"y":1.15e-4},{"s":"maser candidate","x":23.7,"y":1.12e-4},{"s":"maser candidate","x":24.5,"y":1.07e-5},{"s":"maser candidate","x":24.7,"y":7e-5},{"s":"maser candidate","x":25.1,"y":9.8e-6},{"s":"maser candidate","x":24.9,"y":2.8e-5},{"s":"maser candidate","x":25.2,"y":9.1e-5},{"s":"maser candidate","x":25.3,"y":3.6e-5},{"s":"maser candidate","x":25.6,"y":2.5e-6},{"s":"maser candidate","x":25.6,"y":3.8e-6},{"s":"maser candidate","x":25.7,"y":3.1e-5},{"s":"maser candidate","x":25.9,"y":8.7e-6},{"s":"maser candidate","x":26.1,"y":7.4e-6},{"s":"maser candidate","x":26.7,"y":4.4e-6},{"s":"maser candidate","x":27,"y":2.6e-5},{"s":"maser candidate","x":27.5,"y":3.3e-5},{"s":"maser candidate","x":27.8,"y":2.5e-5},{"s":"maser candidate","x":28.3,"y":8.3e-6},{"s":"maser candidate","x":28.3,"y":2.2e-5},{"s":"maser candidate","x":28.2,"y":5.2e-5},{"s":"maser candidate","x":28.5,"y":1.6e-5},{"s":"maser candidate","x":29,"y":2.9e-5},{"s":"maser candidate","x":29.1,"y":8.9e-5},{"s":"maser candidate","x":30,"y":3.9e-6},{"s":"maser candidate","x":30.5,"y":2.8e-5},{"s":"maser candidate","x":30.4,"y":3.5e-5},{"s":"maser candidate","x":31,"y":9.1e-7},{"s":"maser candidate","x":31.1,"y":3.6e-5},{"s":"maser candidate","x":31.5,"y":7e-4},{"s":"maser candidate","x":31.8,"y":1.05e-5},{"s":"maser candidate","x":31.7,"y":4.9e-6},{"s":"maser candidate","x":32.1,"y":3.8e-5},{"s":"maser candidate","x":32.3,"y":1.55e-5},{"s":"maser candidate","x":33.1,"y":1.3e-5},{"s":"maser candidate","x":33.2,"y":6.3e-4},{"s":"maser candidate","x":34.1,"y":4.8e-5},{"s":"maser candidate","x":34.5,"y":4.1e-7},{"s":"maser candidate","x":34.9,"y":2.45e-5},{"s":"maser candidate","x":36.8,"y":4.2e-5},{"s":"maser candidate","x":25,"y":4.9e-4},{"s":"maser","x":8.9,"y":9.3e-6},{"s":"maser","x":9.7,"y":2.4e-6},{"s":"maser","x":11.8,"y":2e-5},{"s":"maser","x":12,"y":1.8e-5},{"s":"maser","x":12.5,"y":5.6e-6},{"s":"maser","x":13,"y":4.4e-6},{"s":"maser","x":13.2,"y":3.3e-6},{"s":"maser","x":13.3,"y":3.2e-5},{"s":"maser","x":13.4,"y":8.1e-5},{"s":"maser","x":14.3,"y":4.5e-5},{"s":"maser","x":14.6,"y":4.4e-5},{"s":"maser","x":15.1,"y":1.65e-5},{"s":"maser","x":15.6,"y":2.4e-6},{"s":"maser","x":15.7,"y":5.8e-6},{"s":"maser","x":15.8,"y":2.3e-6},{"s":"maser","x":15.7,"y":3.9e-6},{"s":"maser","x":15.7,"y":3.4e-6},{"s":"maser","x":16,"y":2.3e-5},{"s":"maser","x":16,"y":2.1e-5},{"s":"maser","x":16.5,"y":8.7e-6},{"s":"maser","x":16.5,"y":7.6e-6},{"s":"maser","x":16.2,"y":3.2e-6},{"s":"maser","x":16.8,"y":5.8e-6},{"s":"maser","x":17,"y":6.4e-6},{"s":"maser","x":17.3,"y":2.1e-5},{"s":"maser","x":17.5,"y":7.6e-6},{"s":"maser","x":18,"y":5.7e-6},{"s":"maser","x":18.4,"y":1.3e-4},{"s":"maser","x":18.2,"y":6e-5},{"s":"maser","x":18.5,"y":2.1e-5},{"s":"maser","x":18.7,"y":3.6e-6},{"s":"maser","x":18.8,"y":1.3e-6},{"s":"maser","x":19,"y":9.3e-6},{"s":"maser","x":19,"y":3.2e-6},{"s":"maser","x":19,"y":1.85e-6},{"s":"maser","x":19.2,"y":5e-5},{"s":"maser","x":19.3,"y":1.6e-5},{"s":"maser","x":19.1,"y":5.4e-6},{"s":"maser","x":19.5,"y":1.1e-4},{"s":"maser","x":19.9,"y":4.5e-5},{"s":"maser","x":20,"y":1.2e-4},{"s":"maser","x":20.2,"y":1e-5},{"s":"maser","x":20.3,"y":2.9e-5},{"s":"maser","x":20.2,"y":6.3e-5},{"s":"maser","x":20.5,"y":4.5e-5},{"s":"maser","x":20.6,"y":3.4e-5},{"s":"maser","x":20.9,"y":1.95e-5},{"s":"maser","x":21,"y":1.38e-4},{"s":"maser","x":21.3,"y":8.3e-5},{"s":"maser","x":21.6,"y":5.5e-5},{"s":"maser","x":21.8,"y":1.3e-3},{"s":"maser","x":21.7,"y":4.2e-5},{"s":"maser","x":21.9,"y":3.6e-5},{"s":"maser","x":21.8,"y":2.6e-5},{"s":"maser","x":22.2,"y":5e-6},{"s":"maser","x":22,"y":3.1e-5},{"s":"maser","x":22.7,"y":3.2e-5},{"s":"maser","x":23,"y":6.7e-5},{"s":"maser","x":23.3,"y":1.15e-4},{"s":"maser","x":24,"y":1.15e-4},{"s":"maser","x":24.1,"y":6.5e-5},{"s":"maser","x":24.2,"y":3.1e-6},{"s":"maser","x":24,"y":8.3e-6},{"s":"maser","x":24.5,"y":8.7e-6},{"s":"maser","x":23.6,"y":1.5e-5},{"s":"maser","x":24,"y":1.3e-5},{"s":"maser","x":24.2,"y":2e-5},{"s":"maser","x":24.4,"y":1.5e-5},{"s":"maser","x":24.7,"y":6e-4},{"s":"maser","x":24.6,"y":2.6e-4},{"s":"maser","x":24.6,"y":1.35e-4},{"s":"maser","x":24.8,"y":5e-5},{"s":"maser","x":24.6,"y":6.5e-5},{"s":"maser","x":25.4,"y":6.4e-6},{"s":"maser","x":25.7,"y":2.6e-7},{"s":"maser","x":25.7,"y":7.4e-5},{"s":"maser","x":26.3,"y":4.2e-5},{"s":"maser","x":26.4,"y":2.2e-4},{"s":"maser","x":26.4,"y":3.5e-5},{"s":"maser","x":26.4,"y":4.6e-6},{"s":"maser","x":26.8,"y":8.3e-6},{"s":"maser","x":27,"y":7.8e-5},{"s":"maser","x":26.7,"y":2.2e-5},{"s":"maser","x":27.9,"y":5.7e-6},{"s":"maser","x":28.3,"y":7.8e-5},{"s":"maser","x":29,"y":4.6e-6},{"s":"maser","x":29.2,"y":7.6e-5},{"s":"maser","x":31,"y":1.44e-4},{"s":"maser","x":31.4,"y":5.2e-6},{"s":"maser","x":32.6,"y":3.8e-6},{"s":"maser","x":33.2,"y":8.1e-6},{"s":"maser","x":33.6,"y":6.6e-5},{"s":"maser","x":35.4,"y":4.8e-5},{"s":"maser","x":35.8,"y":6.4e-6}],
"e":[{"s":"maser candidate","x":6200,"y":1.58e-5},{"s":"maser candidate","x":7000,"y":1e-5},{"s":"maser candidate","x":9800,"y":1.95e-5},{"s":"maser candidate","x":10200,"y":1.12e-5},{"s":"maser candidate","x":10600,"y":2.45e-5},{"s":"maser candidate","x":10800,"y":4.3e-6},{"s":"maser candidate","x":11000,"y":5.5e-6},{"s":"maser candidate","x":13400,"y":1.6e-5},{"s":"maser candidate","x":16000,"y":5.4e-6},{"s":"maser candidate","x":16800,"y":9.8e-6},{"s":"maser candidate","x":17800,"y":2.2e-6},{"s":"maser candidate","x":18300,"y":6.6e-6},{"s":"maser candidate","x":18200,"y":1.4e-5},{"s":"maser candidate","x":20500,"y":1.4e-5},{"s":"maser candidate","x":20300,"y":6.6e-5},{"s":"maser candidate","x":21300,"y":7.2e-5},{"s":"maser candidate","x":22000,"y":3.2e-5},{"s":"maser candidate","x":22500,"y":1.05e-5},{"s":"maser candidate","x":23000,"y":3.2e-6},{"s":"maser candidate","x":23000,"y":6e-6},{"s":"maser candidate","x":23500,"y":2.9e-5},{"s":"maser candidate","x":24400,"y":5.1e-5},{"s":"maser candidate","x":24500,"y":2.45e-5},{"s":"maser candidate","x":25000,"y":8.5e-6},{"s":"maser candidate","x":25500,"y":5.4e-6},{"s":"maser candidate","x":27600,"y":2.8e-5},{"s":"maser candidate","x":27600,"y":1.9e-5},{"s":"maser candidate","x":30000,"y":3.4e-6},{"s":"maser candidate","x":30000,"y":3.55e-5},{"s":"maser candidate","x":32500,"y":4.4e-6},{"s":"maser candidate","x":33000,"y":9.1e-7},{"s":"maser candidate","x":34500,"y":1.4e-5},{"s":"maser candidate","x":36000,"y":4e-6},{"s":"maser candidate","x":36500,"y":4.9e-6},{"s":"maser candidate","x":38000,"y":2.3e-4},{"s":"maser candidate","x":38500,"y":8.1e-6},{"s":"maser candidate","x":43000,"y":1.8e-6},{"s":"maser candidate","x":43500,"y":3.7e-5},{"s":"maser candidate","x":45500,"y":2.9e-6},{"s":"maser candidate","x":46500,"y":7.1e-6},{"s":"maser candidate","x":51000,"y":2.9e-5},{"s":"maser candidate","x":52000,"y":3.5e-6},{"s":"maser candidate","x":55000,"y":9.1e-5},{"s":"maser candidate","x":56000,"y":8.7e-5},{"s":"maser candidate","x":58000,"y":2.2e-4},{"s":"maser candidate","x":57000,"y":6.6e-5},{"s":"maser candidate","x":58500,"y":9.8e-6},{"s":"maser candidate","x":58500,"y":4e-6},{"s":"maser candidate","x":60000,"y":8.1e-6},{"s":"maser candidate","x":62000,"y":2.8e-5},{"s":"maser candidate","x":63000,"y":3.3e-5},{"s":"maser candidate","x":63000,"y":7.4e-6},{"s":"maser candidate","x":68000,"y":6e-5},{"s":"maser candidate","x":68000,"y":5.2e-6},{"s":"maser candidate","x":69000,"y":1.12e-5},{"s":"maser candidate","x":71000,"y":4.2e-6},{"s":"maser candidate","x":71000,"y":2.7e-6},{"s":"maser candidate","x":71000,"y":9.1e-6},{"s":"maser candidate","x":74000,"y":2.6e-5},{"s":"maser candidate","x":87000,"y":2.3e-6},{"s":"maser candidate","x":87000,"y":1.12e-5},{"s":"maser candidate","x":88000,"y":3.5e-5},{"s":"maser candidate","x":92000,"y":4.1e-5},{"s":"maser candidate","x":93000,"y":3.7e-6},{"s":"maser candidate","x":95000,"y":1.15e-5},{"s":"maser candidate","x":97000,"y":3.3e-5},{"s":"maser candidate","x":100000,"y":6.4e-6},{"s":"maser candidate","x":105000,"y":3.5e-6},{"s":"maser candidate","x":108000,"y":2.5e-5},{"s":"maser candidate","x":108000,"y":5.1e-5},{"s":"maser candidate","x":109000,"y":3.2e-6},{"s":"maser candidate","x":107000,"y":1.8e-5},{"s":"maser candidate","x":112000,"y":7.9e-5},{"s":"maser candidate","x":120000,"y":5e-6},{"s":"maser candidate","x":130000,"y":2.2e-6},{"s":"maser candidate","x":133000,"y":4.7e-5},{"s":"maser candidate","x":130000,"y":2.45e-5},{"s":"maser candidate","x":140000,"y":7.2e-6},{"s":"maser candidate","x":145000,"y":4.5e-6},{"s":"maser candidate","x":155000,"y":6.8e-5},{"s":"maser candidate","x":165000,"y":1.7e-6},{"s":"maser candidate","x":178000,"y":2e-7},{"s":"maser candidate","x":187000,"y":3.9e-6},{"s":"maser candidate","x":204000,"y":4.1e-7},{"s":"maser candidate","x":210000,"y":1.75e-5},{"s":"maser candidate","x":245000,"y":3.55e-5},{"s":"maser candidate","x":256000,"y":1.2e-6},{"s":"maser candidate","x":260000,"y":1.4e-5},{"s":"maser candidate","x":300000,"y":7.6e-5},{"s":"maser candidate","x":330000,"y":2.5e-6},{"s":"maser candidate","x":360000,"y":2.3e-4},{"s":"maser candidate","x":440000,"y":1.3e-6},{"s":"maser candidate","x":540000,"y":4.9e-6},{"s":"maser candidate","x":670000,"y":6.3e-4},{"s":"maser candidate","x":960000,"y":3.1e-5},{"s":"maser candidate","x":1230000,"y":4.9e-4},{"s":"maser candidate","x":1400000,"y":1.3e-4},{"s":"maser candidate","x":2200000,"y":6.9e-4},{"s":"maser","x":8500,"y":3.2e-5},{"s":"maser","x":10700,"y":5.9e-5},{"s":"maser","x":11000,"y":8.3e-6},{"s":"maser","x":11300,"y":4.5e-5},{"s":"maser","x":15000,"y":5.4e-6},{"s":"maser","x":15200,"y":2.4e-6},{"s":"maser","x":17600,"y":7.9e-5},{"s":"maser","x":22000,"y":3.3e-6},{"s":"maser","x":23000,"y":7.7e-5},{"s":"maser","x":24500,"y":1.65e-5},{"s":"maser","x":24500,"y":5.5e-6},{"s":"maser","x":24500,"y":3.8e-6},{"s":"maser","x":25200,"y":3e-5},{"s":"maser","x":26000,"y":1.13e-4},{"s":"maser","x":28000,"y":1.5e-5},{"s":"maser","x":30000,"y":8.5e-6},{"s":"maser","x":34000,"y":3.3e-6},{"s":"maser","x":35000,"y":8.1e-6},{"s":"maser","x":40000,"y":2.1e-5},{"s":"maser","x":40000,"y":7.9e-6},{"s":"maser","x":44000,"y":2.1e-5},{"s":"maser","x":44000,"y":3.1e-5},{"s":"maser","x":43000,"y":9.8e-6},{"s":"maser","x":44000,"y":5.6e-6},{"s":"maser","x":47000,"y":2.4e-6},{"s":"maser","x":49000,"y":1.23e-4},{"s":"maser","x":50000,"y":1.07e-4},{"s":"maser","x":52000,"y":5.8e-6},{"s":"maser","x":57000,"y":1.8e-5},{"s":"maser","x":62000,"y":6.2e-5},{"s":"maser","x":63000,"y":2e-5},{"s":"maser","x":60000,"y":9.3e-6},{"s":"maser","x":64000,"y":7.9e-6},{"s":"maser","x":71000,"y":2.6e-4},{"s":"maser","x":73000,"y":7.4e-5},{"s":"maser","x":73000,"y":2e-5},{"s":"maser","x":83000,"y":1.35e-4},{"s":"maser","x":84000,"y":8.5e-6},{"s":"maser","x":88000,"y":6.3e-6},{"s":"maser","x":92000,"y":4.4e-6},{"s":"maser","x":93000,"y":6.5e-5},{"s":"maser","x":100000,"y":1.12e-4},{"s":"maser","x":100000,"y":5.8e-6},{"s":"maser","x":105000,"y":7.8e-5},{"s":"maser","x":103000,"y":5.5e-5},{"s":"maser","x":105000,"y":8.3e-6},{"s":"maser","x":109000,"y":6.7e-5},{"s":"maser","x":114000,"y":4.5e-6},{"s":"maser","x":123000,"y":3.5e-6},{"s":"maser","x":123000,"y":2.9e-5},{"s":"maser","x":123000,"y":2.3e-6},{"s":"maser","x":128000,"y":3.5e-5},{"s":"maser","x":128000,"y":3e-6},{"s":"maser","x":128000,"y":9.3e-6},{"s":"maser","x":132000,"y":5.8e-6},{"s":"maser","x":136000,"y":4.5e-5},{"s":"maser","x":142000,"y":1.3e-4},{"s":"maser","x":145000,"y":2.6e-5},{"s":"maser","x":150000,"y":2.3e-5},{"s":"maser","x":153000,"y":5.4e-6},{"s":"maser","x":153000,"y":6.1e-4},{"s":"maser","x":160000,"y":4.4e-5},{"s":"maser","x":170000,"y":1.26e-3},{"s":"maser","x":172000,"y":3.7e-6},{"s":"maser","x":195000,"y":8.1e-6},{"s":"maser","x":200000,"y":4.4e-5},{"s":"maser","x":204000,"y":4.5e-6},{"s":"maser","x":207000,"y":6.6e-5},{"s":"maser","x":214000,"y":4.8e-5},{"s":"maser","x":217000,"y":2.2e-4},{"s":"maser","x":233000,"y":3.5e-5},{"s":"maser","x":230000,"y":4.4e-5},{"s":"maser","x":245000,"y":3.5e-6},{"s":"maser","x":262000,"y":1.3e-5},{"s":"maser","x":263000,"y":6.3e-6},{"s":"maser","x":270000,"y":1.26e-6},{"s":"maser","x":290000,"y":3.8e-5},{"s":"maser","x":310000,"y":1.65e-5},{"s":"maser","x":320000,"y":4.8e-5},{"s":"maser","x":325000,"y":6.3e-5},{"s":"maser","x":350000,"y":3.2e-6},{"s":"maser","x":350000,"y":1.85e-6},{"s":"maser","x":370000,"y":8.1e-5},{"s":"maser","x":375000,"y":2.6e-7},{"s":"maser","x":385000,"y":1.35e-4},{"s":"maser","x":385000,"y":1.8e-5},{"s":"maser","x":560000,"y":4.8e-5},{"s":"maser","x":660000,"y":6.6e-6},{"s":"maser","x":720000,"y":1.5e-5},{"s":"maser","x":930000,"y":1.41e-4},{"s":"maser","x":2300000,"y":4.2e-5},{"s":"maser","x":3000000,"y":7.6e-5}],
"f":[{"s":"maser candidate","x":1.4e22,"y":1.25},{"s":"maser candidate","x":1.55e22,"y":2.5},{"s":"maser candidate","x":2.05e22,"y":2.35},{"s":"maser candidate","x":2.1e22,"y":1.4},{"s":"maser candidate","x":2.13e22,"y":2.04},{"s":"maser candidate","x":2.57e22,"y":2.06},{"s":"maser candidate","x":2.64e22,"y":3.5},{"s":"maser candidate","x":2.67e22,"y":1.8},{"s":"maser candidate","x":2.76e22,"y":2.16},{"s":"maser candidate","x":2.8e22,"y":4.7},{"s":"maser candidate","x":2.95e22,"y":3},{"s":"maser candidate","x":3.1e22,"y":1.17},{"s":"maser candidate","x":3.2e22,"y":1.42},{"s":"maser candidate","x":3.3e22,"y":1.7},{"s":"maser candidate","x":3.35e22,"y":3.3},{"s":"maser candidate","x":3.5e22,"y":5.3},{"s":"maser candidate","x":3.7e22,"y":2.33},{"s":"maser candidate","x":3.8e22,"y":5.8},{"s":"maser candidate","x":3.85e22,"y":4.7},{"s":"maser candidate","x":3.9e22,"y":7.4},{"s":"maser candidate","x":4e22,"y":2.37},{"s":"maser candidate","x":4.07e22,"y":1.45},{"s":"maser candidate","x":4.08e22,"y":8.7},{"s":"maser candidate","x":4.25e22,"y":15},{"s":"maser candidate","x":4.3e22,"y":1.96},{"s":"maser candidate","x":4.34e22,"y":2.55},{"s":"maser candidate","x":4.4e22,"y":2.2},{"s":"maser candidate","x":4.6e22,"y":7.5},{"s":"maser candidate","x":4.78e22,"y":4.07},{"s":"maser candidate","x":4.9e22,"y":1.64},{"s":"maser candidate","x":5.05e22,"y":2.63},{"s":"maser candidate","x":5.5e22,"y":1.19},{"s":"maser candidate","x":5.5e22,"y":1.48},{"s":"maser candidate","x":5.57e22,"y":2.27},{"s":"maser candidate","x":5.57e22,"y":3.64},{"s":"maser candidate","x":5.7e22,"y":7.8},{"s":"maser candidate","x":5.75e22,"y":2.63},{"s":"maser candidate","x":5.9e22,"y":3.84},{"s":"maser candidate","x":6e22,"y":3.4},{"s":"maser candidate","x":6.15e22,"y":13.2},{"s":"maser candidate","x":6.1e22,"y":5.4},{"s":"maser candidate","x":6.26e22,"y":8.45},{"s":"maser candidate","x":6.15e22,"y":2.94},{"s":"maser candidate","x":6.35e22,"y":1.8},{"s":"maser candidate","x":6.7e22,"y":1.82},{"s":"maser candidate","x":6.75e22,"y":5.9},{"s":"maser candidate","x":6.77e22,"y":1.59},{"s":"maser candidate","x":6.9e22,"y":2.9},{"s":"maser candidate","x":6.9e22,"y":2.57},{"s":"maser candidate","x":7.2e22,"y":9.3},{"s":"maser candidate","x":7.3e22,"y":3.4},{"s":"maser candidate","x":7.4e22,"y":15.5},{"s":"maser candidate","x":7.5e22,"y":3.4},{"s":"maser candidate","x":7.65e22,"y":0.84},{"s":"maser candidate","x":7.65e22,"y":6.8},{"s":"maser candidate","x":7.8e22,"y":4.6},{"s":"maser candidate","x":7.9e22,"y":6.3},{"s":"maser candidate","x":8.1e22,"y":2.34},{"s":"maser candidate","x":8e22,"y":2.9},{"s":"maser candidate","x":7.8e22,"y":85},{"s":"maser candidate","x":8.2e22,"y":3.5},{"s":"maser candidate","x":8.1e22,"y":7.5},{"s":"maser candidate","x":8.3e22,"y":15.4},{"s":"maser candidate","x":8.3e22,"y":3.1},{"s":"maser candidate","x":8.4e22,"y":26.5},{"s":"maser candidate","x":8.4e22,"y":5.25},{"s":"maser candidate","x":8.5e22,"y":2.4},{"s":"maser candidate","x":8.5e22,"y":1.67},{"s":"maser candidate","x":8.7e22,"y":41.5},{"s":"maser candidate","x":8.75e22,"y":4.5},{"s":"maser candidate","x":8.75e22,"y":4.8},{"s":"maser candidate","x":9e22,"y":13.2},{"s":"maser candidate","x":9.3e22,"y":9.3},{"s":"maser candidate","x":1.05e23,"y":1.6},{"s":"maser candidate","x":1.07e23,"y":8.3},{"s":"maser candidate","x":1.08e23,"y":3.85},{"s":"maser candidate","x":1.12e23,"y":3.4},{"s":"maser candidate","x":1.12e23,"y":14},{"s":"maser candidate","x":1.14e23,"y":33.7},{"s":"maser candidate","x":1.12e23,"y":5.55},{"s":"maser candidate","x":1.14e23,"y":6.4},{"s":"maser candidate","x":1.14e23,"y":14.7},{"s":"maser candidate","x":1.2e23,"y":6},{"s":"maser candidate","x":1.27e23,"y":29},{"s":"maser candidate","x":1.41e23,"y":13},{"s":"maser candidate","x":1.47e23,"y":13.2},{"s":"maser candidate","x":1.47e23,"y":5.8},{"s":"maser candidate","x":1.49e23,"y":5},{"s":"maser candidate","x":1.63e23,"y":21.3},{"s":"maser candidate","x":1.85e23,"y":3},{"s":"maser candidate","x":1.95e23,"y":94},{"s":"maser candidate","x":2.4e23,"y":38},{"s":"maser candidate","x":4.95e23,"y":56},{"s":"maser candidate","x":6.3e23,"y":69},{"s":"maser candidate","x":7.8e23,"y":51},{"s":"maser candidate","x":1.05e24,"y":263},{"s":"maser","x":1.25e22,"y":7},{"s":"maser","x":1.46e22,"y":7},{"s":"maser","x":1.55e22,"y":1.3},{"s":"maser","x":1.74e22,"y":0.89},{"s":"maser","x":1.8e22,"y":20},{"s":"maser","x":1.8e22,"y":7.3},{"s":"maser","x":1.88e22,"y":8.7},{"s":"maser","x":2.28e22,"y":5.5},{"s":"maser","x":2.35e22,"y":4.15},{"s":"maser","x":2.44e22,"y":5.6},{"s":"maser","x":2.41e22,"y":3},{"s":"maser","x":2.5e22,"y":1.45},{"s":"maser","x":2.5e22,"y":2.85},{"s":"maser","x":2.84e22,"y":2.76},{"s":"maser","x":2.95e22,"y":5.4},{"s":"maser","x":3.03e22,"y":10},{"s":"maser","x":3.1e22,"y":2.23},{"s":"maser","x":3.18e22,"y":6.9},{"s":"maser","x":3.23e22,"y":3.6},{"s":"maser","x":3.85e22,"y":3.64},{"s":"maser","x":4e22,"y":5.4},{"s":"maser","x":4.12e22,"y":2.43},{"s":"maser","x":4.25e22,"y":2.46},{"s":"maser","x":4.23e22,"y":1.4},{"s":"maser","x":4.3e22,"y":1.4},{"s":"maser","x":4.34e22,"y":2.37},{"s":"maser","x":4.47e22,"y":7.08},{"s":"maser","x":4.63e22,"y":1.98},{"s":"maser","x":4.9e22,"y":2.55},{"s":"maser","x":4.97e22,"y":4.7},{"s":"maser","x":5.05e22,"y":4.5},{"s":"maser","x":5.25e22,"y":10.9},{"s":"maser","x":5.4e22,"y":9.5},{"s":"maser","x":5.8e22,"y":10},{"s":"maser","x":6.05e22,"y":20},{"s":"maser","x":6.26e22,"y":10},{"s":"maser","x":6.35e22,"y":10.9},{"s":"maser","x":6.45e22,"y":4.25},{"s":"maser","x":6.45e22,"y":2.8},{"s":"maser","x":6.53e22,"y":14.2},{"s":"maser","x":6.8e22,"y":58.5},{"s":"maser","x":6.8e22,"y":43.6},{"s":"maser","x":7.45e22,"y":2.46},{"s":"maser","x":7.45e22,"y":37},{"s":"maser","x":7.8e22,"y":32.5},{"s":"maser","x":7.8e22,"y":47},{"s":"maser","x":7.95e22,"y":5.55},{"s":"maser","x":8.35e22,"y":57},{"s":"maser","x":8.75e22,"y":70},{"s":"maser","x":9e22,"y":10.1},{"s":"maser","x":9e22,"y":9.2},{"s":"maser","x":9.05e22,"y":54},{"s":"maser","x":9.15e22,"y":22},{"s":"maser","x":1.01e23,"y":54},{"s":"maser","x":1.02e23,"y":24},{"s":"maser","x":1.05e23,"y":44},{"s":"maser","x":1.06e23,"y":10},{"s":"maser","x":1.07e23,"y":18.1},{"s":"maser","x":1.06e23,"y":38},{"s":"maser","x":1.07e23,"y":5.1},{"s":"maser","x":1.1e23,"y":58},{"s":"maser","x":1.12e23,"y":48.4},{"s":"maser","x":1.2e23,"y":118},{"s":"maser","x":1.25e23,"y":8.7},{"s":"maser","x":1.3e23,"y":74},{"s":"maser","x":1.3e23,"y":7.8},{"s":"maser","x":1.38e23,"y":3.5},{"s":"maser","x":1.39e23,"y":8.3},{"s":"maser","x":1.39e23,"y":24},{"s":"maser","x":1.4e23,"y":20.4},{"s":"maser","x":1.4e23,"y":14.3},{"s":"maser","x":1.48e23,"y":72},{"s":"maser","x":1.52e23,"y":41},{"s":"maser","x":1.75e23,"y":9.5},{"s":"maser","x":1.78e23,"y":41.5},{"s":"maser","x":1.78e23,"y":52.5},{"s":"maser","x":1.79e23,"y":29.4},{"s":"maser","x":1.83e23,"y":59.5},{"s":"maser","x":1.83e23,"y":19.3},{"s":"maser","x":1.85e23,"y":24.3},{"s":"maser","x":2.08e23,"y":34.6},{"s":"maser","x":2.2e23,"y":33.7},{"s":"maser","x":2.43e23,"y":202},{"s":"maser","x":2.5e23,"y":13.6},{"s":"maser","x":2.58e23,"y":16},{"s":"maser","x":2.62e23,"y":57},{"s":"maser","x":2.67e23,"y":27.7},{"s":"maser","x":3.43e23,"y":190},{"s":"maser","x":4.55e23,"y":94},{"s":"maser","x":8.2e23,"y":92}],
"al":[{"s":"fitting for all detection","x":10,"y":1.3e-6},{"s":"fitting for all detection","x":8.9e6,"y":1.9e-4},{"s":"fitting for maser","x":10,"y":1.52e-6},{"s":"fitting for maser","x":8.9e6,"y":3.4e-4}],
"bl":[{"s":"fitting for all detection","x":7.9,"y":9.1e-7},{"s":"fitting for all detection","x":32000,"y":2.54e-4},{"s":"fitting for maser","x":7.9,"y":1.53e-6},{"s":"fitting for maser","x":32000,"y":2.9e-4}],
"cl":[{"s":"fitting for all detection","x":0.079,"y":4.15e-6},{"s":"fitting for all detection","x":1000,"y":4.35e-5},{"s":"fitting for maser","x":0.079,"y":5.1e-6},{"s":"fitting for maser","x":1000,"y":5.7e-5}],
"dl":[{"s":"fitting for all detection","x":7.94,"y":4.7e-6},{"s":"fitting for all detection","x":50,"y":4.6e-5},{"s":"fitting for maser","x":7.94,"y":5.8e-6},{"s":"fitting for maser","x":50,"y":5.8e-5}],
"el":[{"s":"fitting for all detection","x":2500,"y":7.8e-6},{"s":"fitting for all detection","x":3200000,"y":3.4e-5},{"s":"fitting for maser","x":2500,"y":1.28e-5},{"s":"fitting for maser","x":3200000,"y":2.87e-5}],
"fl":[{"s":"fitting for all detection","x":1e22,"y":0.985},{"s":"fitting for all detection","x":1.26e24,"y":165},{"s":"fitting for maser","x":1e22,"y":1.55},{"s":"fitting for maser","x":1.26e24,"y":240}]
},
"vconcat":[{"spacing":26,"resolve":{"scale":{"fill":"independent","stroke":"independent","shape":"independent","strokeDash":"independent"},"legend":{"fill":"independent","stroke":"independent","shape":"independent","strokeDash":"independent"}},"hconcat":[
{"width":326,"height":274,"title":{"text":"(a)"},"layer":[{"data":{"name":"a"},"mark":{"type":"point","filled":true,"size":36,"strokeWidth":0.5,"opacity":1},"encoding":{"x":{"field":"x","type":"quantitative","scale":{"type":"log","domain":[4.93,1.74e7],"nice":false},"axis":{"title":"Lbol  [L⊙]","values":[5,6,7,8,9,10,20,30,40,50,60,70,80,90,100,200,300,400,500,600,700,800,900,1000,2000,3000,4000,5000,6000,7000,8000,9000,10000,20000,30000,40000,50000,60000,70000,80000,90000,100000,200000,300000,400000,500000,600000,700000,800000,900000,1000000,2000000,3000000,4000000,5000000,6000000,7000000,8000000,9000000,10000000],"tickSize":{"condition":{"test":"abs(log(datum.value)/LN10-round(log(datum.value)/LN10))<1e-6","value":4},"value":2},"labelExpr":"abs(log(datum.value)/LN10-round(log(datum.value)/LN10))<1e-6?'10'+sup[''+round(log(datum.value)/LN10)]:''"}},"y":{"field":"y","type":"quantitative","scale":{"type":"log","domain":[1e-7,5e-3],"nice":false},"axis":{"title":"L₉₅ [L⊙]","values":[1e-7,2e-7,3e-7,4e-7,5e-7,6e-7,7e-7,8e-7,9e-7,1e-6,2e-6,3e-6,4e-6,5e-6,6e-6,7e-6,8e-6,9e-6,1e-5,2e-5,3e-5,4e-5,5e-5,6e-5,7e-5,8e-5,9e-5,1e-4,2e-4,3e-4,4e-4,5e-4,6e-4,7e-4,8e-4,9e-4,1e-3,2e-3,3e-3,4e-3,5e-3],"tickSize":{"condition":{"test":"abs(log(datum.value)/LN10-round(log(datum.value)/LN10))<1e-6","value":4},"value":2},"labelExpr":"abs(log(datum.value)/LN10-round(log(datum.value)/LN10))<1e-6?'10'+sup[''+round(log(datum.value)/LN10)]:''"}},"fill":{"field":"s","type":"nominal","scale":{"domain":["maser candidate","maser","fitting for all detection","fitting for maser"],"range":["#9370DB","#FF8C1A","#000000","#FF8C1A"]}},"stroke":{"field":"s","type":"nominal","scale":{"domain":["maser candidate","maser","fitting for all detection","fitting for maser"],"range":["#9370DB","#FF8C1A","#000000","#FF8C1A"]}},"shape":{"field":"s","type":"nominal","scale":{"domain":["maser candidate","maser","fitting for all detection","fitting for maser"],"range":["triangle-up","triangle-up","M-4.3,0H4.3","M-4.3,0H4.3"]}},"strokeDash":{"field":"s","type":"nominal","scale":{"domain":["maser candidate","maser","fitting for all detection","fitting for maser"],"range":[[1,0],[1,0],[4,2],[1,0]]}}}},{"data":{"name":"al"},"mark":{"type":"line","strokeWidth":1.4},"encoding":{"x":{"field":"x","type":"quantitative"},"y":{"field":"y","type":"quantitative"},"stroke":{"field":"s","type":"nominal"},"strokeDash":{"field":"s","type":"nominal"}}}]},
{"width":326,"height":274,"title":{"text":"(b)"},"layer":[{"data":{"name":"b"},"mark":{"type":"point","filled":true,"size":36,"strokeWidth":0.5,"opacity":1},"encoding":{"x":{"field":"x","type":"quantitative","scale":{"type":"log","domain":[4.9,48500],"nice":false},"axis":{"title":"Mfwhm [M⊙]","values":[5,6,7,8,9,10,20,30,40,50,60,70,80,90,100,200,300,400,500,600,700,800,900,1000,2000,3000,4000,5000,6000,7000,8000,9000,10000,20000,30000,40000],"tickSize":{"condition":{"test":"abs(log(datum.value)/LN10-round(log(datum.value)/LN10))<1e-6","value":4},"value":2},"labelExpr":"abs(log(datum.value)/LN10-round(log(datum.value)/LN10))<1e-6?'10'+sup[''+round(log(datum.value)/LN10)]:''"}},"y":{"field":"y","type":"quantitative","scale":{"type":"log","domain":[1.3e-7,1.97e-3],"nice":false},"axis":{"title":"L₉₅ [L⊙]","values":[2e-7,3e-7,4e-7,5e-7,6e-7,7e-7,8e-7,9e-7,1e-6,2e-6,3e-6,4e-6,5e-6,6e-6,7e-6,8e-6,9e-6,1e-5,2e-5,3e-5,4e-5,5e-5,6e-5,7e-5,8e-5,9e-5,1e-4,2e-4,3e-4,4e-4,5e-4,6e-4,7e-4,8e-4,9e-4,1e-3],"tickSize":{"condition":{"test":"abs(log(datum.value)/LN10-round(log(datum.value)/LN10))<1e-6","value":4},"value":2},"labelExpr":"abs(log(datum.value)/LN10-round(log(datum.value)/LN10))<1e-6?'10'+sup[''+round(log(datum.value)/LN10)]:''"}},"fill":{"field":"s","type":"nominal","scale":{"domain":["maser candidate","maser","fitting for all detection","fitting for maser"],"range":["#9370DB","#FF8C1A","#000000","#FF8C1A"]}},"stroke":{"field":"s","type":"nominal","scale":{"domain":["maser candidate","maser","fitting for all detection","fitting for maser"],"range":["#9370DB","#FF8C1A","#000000","#FF8C1A"]}},"shape":{"field":"s","type":"nominal","scale":{"domain":["maser candidate","maser","fitting for all detection","fitting for maser"],"range":["triangle-up","triangle-up","M-4.3,0H4.3","M-4.3,0H4.3"]}},"strokeDash":{"field":"s","type":"nominal","scale":{"domain":["maser candidate","maser","fitting for all detection","fitting for maser"],"range":[[1,0],[1,0],[4,2],[1,0]]}}}},{"data":{"name":"bl"},"mark":{"type":"line","strokeWidth":1.4},"encoding":{"x":{"field":"x","type":"quantitative"},"y":{"field":"y","type":"quantitative"},"stroke":{"field":"s","type":"nominal"},"strokeDash":{"field":"s","type":"nominal"}}}]},
{"width":326,"height":274,"title":{"text":"(c)"},"layer":[{"data":{"name":"c"},"mark":{"type":"point","filled":true,"size":36,"strokeWidth":0.5,"opacity":1},"encoding":{"x":{"field":"x","type":"quantitative","scale":{"type":"log","domain":[0.05,1600],"nice":false},"axis":{"title":"Lbol/Mfwhm [L⊙/M⊙]","values":[0.05,0.06,0.07,0.08,0.09,0.1,0.2,0.3,0.4,0.5,0.6,0.7,0.8,0.9,1,2,3,4,5,6,7,8,9,10,20,30,40,50,60,70,80,90,100,200,300,400,500,600,700,800,900,1000],"tickSize":{"condition":{"test":"abs(log(datum.value)/LN10-round(log(datum.value)/LN10))<1e-6","value":4},"value":2},"labelExpr":"abs(log(datum.value)/LN10-round(log(datum.value)/LN10))<1e-6?'10'+sup[''+round(log(datum.value)/LN10)]:''"}},"y":{"field":"y","type":"quantitative","scale":{"type":"log","domain":[1e-7,2e-3],"nice":false},"axis":{"title":"L₉₅ [L⊙]","values":[1e-7,2e-7,3e-7,4e-7,5e-7,6e-7,7e-7,8e-7,9e-7,1e-6,2e-6,3e-6,4e-6,5e-6,6e-6,7e-6,8e-6,9e-6,1e-5,2e-5,3e-5,4e-5,5e-5,6e-5,7e-5,8e-5,9e-5,1e-4,2e-4,3e-4,4e-4,5e-4,6e-4,7e-4,8e-4,9e-4,1e-3,2e-3],"tickSize":{"condition":{"test":"abs(log(datum.value)/LN10-round(log(datum.value)/LN10))<1e-6","value":4},"value":2},"labelExpr":"abs(log(datum.value)/LN10-round(log(datum.value)/LN10))<1e-6?'10'+sup[''+round(log(datum.value)/LN10)]:''"}},"fill":{"field":"s","type":"nominal","scale":{"domain":["maser candidate","maser","fitting for all detection","fitting for maser"],"range":["#9370DB","#FF8C1A","#000000","#FF8C1A"]}},"stroke":{"field":"s","type":"nominal","scale":{"domain":["maser candidate","maser","fitting for all detection","fitting for maser"],"range":["#9370DB","#FF8C1A","#000000","#FF8C1A"]}},"shape":{"field":"s","type":"nominal","scale":{"domain":["maser candidate","maser","fitting for all detection","fitting for maser"],"range":["triangle-up","triangle-up","M-4.3,0H4.3","M-4.3,0H4.3"]}},"strokeDash":{"field":"s","type":"nominal","scale":{"domain":["maser candidate","maser","fitting for all detection","fitting for maser"],"range":[[1,0],[1,0],[4,2],[1,0]]}}}},{"data":{"name":"cl"},"mark":{"type":"line","strokeWidth":1.4},"encoding":{"x":{"field":"x","type":"quantitative"},"y":{"field":"y","type":"quantitative"},"stroke":{"field":"s","type":"nominal"},"strokeDash":{"field":"s","type":"nominal"}}}]}
]},{"spacing":26,"resolve":{"scale":{"fill":"independent","stroke":"independent","shape":"independent","strokeDash":"independent"},"legend":{"fill":"independent","stroke":"independent","shape":"independent","strokeDash":"independent"}},"hconcat":[
{"width":326,"height":276,"title":{"text":"(d)","offset":26},"layer":[{"data":{"name":"d"},"mark":{"type":"point","filled":true,"size":36,"strokeWidth":0.5,"opacity":1},"encoding":{"x":{"field":"x","type":"quantitative","scale":{"type":"log","domain":[7.22,54.8],"nice":false},"axis":{"title":"Tdust [K]","values":[8,9,10,20,30,40,50],"tickSize":{"condition":{"test":"datum.value>=10","value":4},"value":2},"labelExpr":"datum.value>=10?''+datum.value:''"}},"y":{"field":"y","type":"quantitative","scale":{"type":"log","domain":[1e-7,8.1e-3],"nice":false},"axis":{"title":"L₉₅ [L⊙]","values":[1e-7,2e-7,3e-7,4e-7,5e-7,6e-7,7e-7,8e-7,9e-7,1e-6,2e-6,3e-6,4e-6,5e-6,6e-6,7e-6,8e-6,9e-6,1e-5,2e-5,3e-5,4e-5,5e-5,6e-5,7e-5,8e-5,9e-5,1e-4,2e-4,3e-4,4e-4,5e-4,6e-4,7e-4,8e-4,9e-4,1e-3,2e-3,3e-3,4e-3,5e-3,6e-3,7e-3,8e-3],"tickSize":{"condition":{"test":"abs(log(datum.value)/LN10-round(log(datum.value)/LN10))<1e-6","value":4},"value":2},"labelExpr":"abs(log(datum.value)/LN10-round(log(datum.value)/LN10))<1e-6?'10'+sup[''+round(log(datum.value)/LN10)]:''"}},"fill":{"field":"s","type":"nominal","scale":{"domain":["maser candidate","maser","fitting for all detection","fitting for maser"],"range":["#9370DB","#FF8C1A","#000000","#FF8C1A"]}},"stroke":{"field":"s","type":"nominal","scale":{"domain":["maser candidate","maser","fitting for all detection","fitting for maser"],"range":["#9370DB","#FF8C1A","#000000","#FF8C1A"]}},"shape":{"field":"s","type":"nominal","scale":{"domain":["maser candidate","maser","fitting for all detection","fitting for maser"],"range":["triangle-up","triangle-up","M-4.3,0H4.3","M-4.3,0H4.3"]}},"strokeDash":{"field":"s","type":"nominal","scale":{"domain":["maser candidate","maser","fitting for all detection","fitting for maser"],"range":[[1,0],[1,0],[4,2],[1,0]]}}}},{"data":{"name":"dl"},"mark":{"type":"line","strokeWidth":1.4},"encoding":{"x":{"field":"x","type":"quantitative"},"y":{"field":"y","type":"quantitative"},"stroke":{"field":"s","type":"nominal"},"strokeDash":{"field":"s","type":"nominal"}}}]},
{"width":328,"height":276,"title":{"text":"(e)","offset":26},"layer":[{"data":{"name":"e"},"mark":{"type":"point","filled":true,"size":36,"strokeWidth":0.5,"opacity":1},"encoding":{"x":{"field":"x","type":"quantitative","scale":{"type":"log","domain":[1762,4.47e6],"nice":false},"axis":{"title":"nfwhm(H₂) [cm⁻³]","values":[2000,3000,4000,5000,6000,7000,8000,9000,10000,20000,30000,40000,50000,60000,70000,80000,90000,100000,200000,300000,400000,500000,600000,700000,800000,900000,1000000,2000000,3000000,4000000],"tickSize":{"condition":{"test":"abs(log(datum.value)/LN10-round(log(datum.value)/LN10))<1e-6","value":4},"value":2},"labelExpr":"abs(log(datum.value)/LN10-round(log(datum.value)/LN10))<1e-6?'10'+sup[''+round(log(datum.value)/LN10)]:''"}},"y":{"field":"y","type":"quantitative","scale":{"type":"log","domain":[1e-7,8e-3],"nice":false},"axis":{"title":"L₉₅ [L⊙]","values":[1e-7,2e-7,3e-7,4e-7,5e-7,6e-7,7e-7,8e-7,9e-7,1e-6,2e-6,3e-6,4e-6,5e-6,6e-6,7e-6,8e-6,9e-6,1e-5,2e-5,3e-5,4e-5,5e-5,6e-5,7e-5,8e-5,9e-5,1e-4,2e-4,3e-4,4e-4,5e-4,6e-4,7e-4,8e-4,9e-4,1e-3,2e-3,3e-3,4e-3,5e-3,6e-3,7e-3,8e-3],"tickSize":{"condition":{"test":"abs(log(datum.value)/LN10-round(log(datum.value)/LN10))<1e-6","value":4},"value":2},"labelExpr":"abs(log(datum.value)/LN10-round(log(datum.value)/LN10))<1e-6?'10'+sup[''+round(log(datum.value)/LN10)]:''"}},"fill":{"field":"s","type":"nominal","scale":{"domain":["maser candidate","maser","fitting for all detection","fitting for maser"],"range":["#9370DB","#FF8C1A","#000000","#FF8C1A"]}},"stroke":{"field":"s","type":"nominal","scale":{"domain":["maser candidate","maser","fitting for all detection","fitting for maser"],"range":["#9370DB","#FF8C1A","#000000","#FF8C1A"]}},"shape":{"field":"s","type":"nominal","scale":{"domain":["maser candidate","maser","fitting for all detection","fitting for maser"],"range":["triangle-up","triangle-up","M-4.3,0H4.3","M-4.3,0H4.3"]}},"strokeDash":{"field":"s","type":"nominal","scale":{"domain":["maser candidate","maser","fitting for all detection","fitting for maser"],"range":[[1,0],[1,0],[4,2],[1,0]]}}}},{"data":{"name":"el"},"mark":{"type":"line","strokeWidth":1.4},"encoding":{"x":{"field":"x","type":"quantitative"},"y":{"field":"y","type":"quantitative"},"stroke":{"field":"s","type":"nominal"},"strokeDash":{"field":"s","type":"nominal"}}}]},
{"width":328,"height":270,"title":{"text":"(f)","offset":31},"layer":[{"data":{"name":"f"},"mark":{"type":"point","filled":true,"size":36,"strokeWidth":0.5,"opacity":1},"encoding":{"x":{"field":"x","type":"quantitative","scale":{"type":"log","domain":[7.94e21,1.6e24],"nice":false},"axis":{"title":"NH₂ [cm⁻²]","values":[8e21,9e21,1e22,2e22,3e22,4e22,5e22,6e22,7e22,8e22,9e22,1e23,2e23,3e23,4e23,5e23,6e23,7e23,8e23,9e23,1e24],"tickSize":{"condition":{"test":"abs(log(datum.value)/LN10-round(log(datum.value)/LN10))<1e-6","value":4},"value":2},"labelExpr":"abs(log(datum.value)/LN10-round(log(datum.value)/LN10))<1e-6?'10'+sup[''+round(log(datum.value)/LN10)]:''"}},"y":{"field":"y","type":"quantitative","scale":{"type":"log","domain":[0.693,504],"nice":false},"axis":{"title":"∫S₉₅dV [Jy km s⁻¹]","values":[0.7,0.8,0.9,1,2,3,4,5,6,7,8,9,10,20,30,40,50,60,70,80,90,100,200,300,400,500],"tickSize":{"condition":{"test":"abs(log(datum.value)/LN10-round(log(datum.value)/LN10))<1e-6","value":4},"value":2},"labelExpr":"abs(log(datum.value)/LN10-round(log(datum.value)/LN10))<1e-6?'10'+sup[''+round(log(datum.value)/LN10)]:''"}},"fill":{"field":"s","type":"nominal","scale":{"domain":["maser candidate","maser","fitting for all detection","fitting for maser"],"range":["#9370DB","#FF8C1A","#000000","#FF8C1A"]}},"stroke":{"field":"s","type":"nominal","scale":{"domain":["maser candidate","maser","fitting for all detection","fitting for maser"],"range":["#9370DB","#FF8C1A","#000000","#FF8C1A"]}},"shape":{"field":"s","type":"nominal","scale":{"domain":["maser candidate","maser","fitting for all detection","fitting for maser"],"range":["triangle-up","triangle-up","M-4.3,0H4.3","M-4.3,0H4.3"]}},"strokeDash":{"field":"s","type":"nominal","scale":{"domain":["maser candidate","maser","fitting for all detection","fitting for maser"],"range":[[1,0],[1,0],[4,2],[1,0]]}}}},{"data":{"name":"fl"},"mark":{"type":"line","strokeWidth":1.4},"encoding":{"x":{"field":"x","type":"quantitative"},"y":{"field":"y","type":"quantitative"},"stroke":{"field":"s","type":"nominal"},"strokeDash":{"field":"s","type":"nominal"}}}]}
]}]}
